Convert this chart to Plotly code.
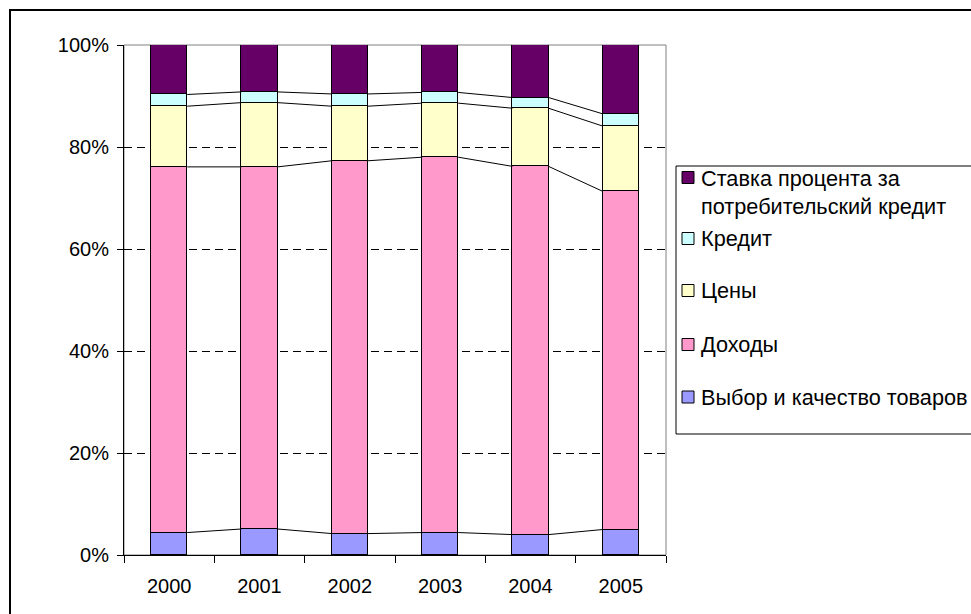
import numpy as np
import plotly.graph_objects as go

# --- data -------------------------------------------------------------
years = ["2000", "2001", "2002", "2003", "2004", "2005"]

# series listed bottom-to-top of the stack (shares, %)
vybor = [4.4, 5.1, 4.2, 4.4, 4.0, 5.0]          # Выбор и качество товаров
dohody = [71.7, 71.0, 73.1, 73.6, 72.2, 66.3]   # Доходы
ceny = [11.9, 12.6, 10.7, 10.6, 11.4, 12.8]     # Цены
kredit = [2.3, 2.1, 2.4, 2.1, 2.1, 2.4]         # Кредит
stavka = [9.7, 9.2, 9.6, 9.3, 10.3, 13.5]       # Ставка процента

series_names = [
    "Выбор и качество товаров",
    "Доходы",
    "Цены",
    "Кредит",
    "Ставка процента за<br>потребительский кредит",
]
series_values = [vybor, dohody, ceny, kredit, stavka]
series_colors = ["#9999FF", "#FF99CC", "#FFFFCC", "#CCFFFF", "#660066"]

y_ticks = [0, 20, 40, 60, 80, 100]
y_ticktext = ["0%", "20%", "40%", "60%", "80%", "100%"]

# --- geometry ---------------------------------------------------------
W, H = 971, 614
ML, MR, MT, MB = 124, 305, 45, 59
PW, PH = W - ML - MR, H - MT - MB
BAR_W = 0.40
FONT = "Liberation Sans, Arial, sans-serif"
FS_AXIS = 20
FS_LEGEND = 21.7


def px_x(px):
    return (px - ML) / PW


def px_y(py):
    return (H - MB - py) / PH


xs = np.arange(len(years))
vals = np.array(series_values, dtype=float)
shares = vals / vals.sum(axis=0) * 100.0
cum = np.cumsum(shares, axis=0)

fig = go.Figure()

for name, row, color in zip(series_names, shares, series_colors):
    fig.add_trace(go.Bar(
        x=xs, y=row, name=name, width=BAR_W,
        marker=dict(color=color, line=dict(color="#000000", width=1)),
        showlegend=False,
    ))

# series lines joining the segment boundaries of neighbouring bars
for level in cum[:-1]:
    lx, ly = [], []
    for i in range(len(xs) - 1):
        lx += [xs[i] + BAR_W / 2, xs[i + 1] - BAR_W / 2, None]
        ly += [level[i], level[i + 1], None]
    fig.add_trace(go.Scatter(
        x=lx, y=ly, mode="lines", line=dict(color="#000000", width=1),
        showlegend=False, hoverinfo="skip",
    ))

shapes = []
annotations = []

# plot-area frame (grey)
shapes.append(dict(type="rect", xref="paper", yref="paper",
                   x0=0, x1=1, y0=0, y1=1,
                   line=dict(color="#808080", width=1), layer="below"))
# chart-area frame
shapes.append(dict(type="rect", xref="paper", yref="paper",
                   x0=px_x(10), x1=px_x(990), y0=px_y(640), y1=px_y(10),
                   line=dict(color="#000000", width=2)))
# legend box
shapes.append(dict(type="rect", xref="paper", yref="paper",
                   x0=px_x(676), x1=px_x(990), y0=px_y(434), y1=px_y(166),
                   line=dict(color="#000000", width=1)))

# legend entries, top to bottom
legend_y = [177.5, 238.5, 290.5, 344.5, 397.0]
order = list(range(len(series_names)))[::-1]
for py, idx in zip(legend_y, order):
    shapes.append(dict(type="rect", xref="paper", yref="paper",
                       x0=px_x(682), x1=px_x(694),
                       y0=px_y(py + 6), y1=px_y(py - 6),
                       fillcolor=series_colors[idx],
                       line=dict(color="#000000", width=1)))
    nlines = series_names[idx].count("<br>") + 1
    annotations.append(dict(
        xref="paper", yref="paper", x=px_x(699),
        y=px_y(py - 13) if nlines > 1 else px_y(py),
        yanchor="top" if nlines > 1 else "middle",
        xanchor="left", align="left", showarrow=False,
        text=series_names[idx],
        font=dict(family=FONT, size=FS_LEGEND, color="#000000"),
    ))

fig.update_layout(
    width=W, height=H,
    margin=dict(l=ML, r=MR, t=MT, b=MB, pad=0),
    barmode="stack",
    bargap=0,
    paper_bgcolor="#FFFFFF",
    plot_bgcolor="#FFFFFF",
    font=dict(family=FONT, size=FS_AXIS, color="#000000"),
    showlegend=False,
    shapes=shapes,
    annotations=annotations,
)

fig.update_xaxes(
    range=[-0.5, len(years) - 0.5],
    tickmode="array", tickvals=list(xs), ticktext=years,
    ticks="", showgrid=False, zeroline=False,
    showline=True, linecolor="#000000", linewidth=1,
    ticklabelstandoff=13,
    minor=dict(tickmode="linear", tick0=-0.5, dtick=1,
               ticks="outside", ticklen=7, tickcolor="#000000",
               tickwidth=1, showgrid=False),
)

fig.update_yaxes(
    range=[0, 100],
    tickmode="array", tickvals=y_ticks, ticktext=y_ticktext,
    ticks="outside", ticklen=6, tickcolor="#000000", tickwidth=1,
    showline=True, linecolor="#000000", linewidth=1,
    showgrid=True, gridcolor="#000000", gridwidth=1, griddash="8px,5px",
    zeroline=False,
    ticklabelstandoff=4,
)

fig.write_html("out.html")
